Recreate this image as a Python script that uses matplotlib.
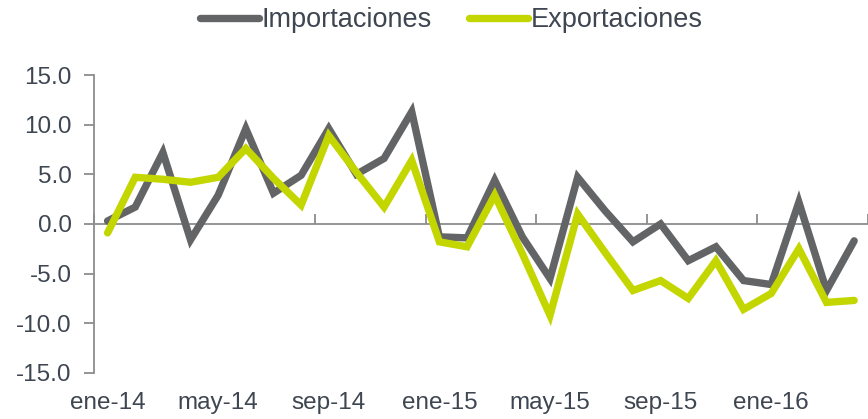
import matplotlib.pyplot as plt

months = ["ene-14", "feb-14", "mar-14", "abr-14", "may-14", "jun-14", "jul-14",
          "ago-14", "sep-14", "oct-14", "nov-14", "dic-14", "ene-15", "feb-15",
          "mar-15", "abr-15", "may-15", "jun-15", "jul-15", "ago-15", "sep-15",
          "oct-15", "nov-15", "dic-15", "ene-16", "feb-16", "mar-16", "abr-16"]

importaciones = [0.3, 1.7, 7.2, -1.6, 2.9, 9.6, 3.1, 4.9, 9.6, 5.0, 6.6, 11.3,
                 -1.3, -1.4, 4.4, -1.3, -5.5, 4.7, 1.3, -1.8, 0.0, -3.7, -2.3,
                 -5.7, -6.1, 2.2, -6.7, -1.7]
exportaciones = [-0.9, 4.7, 4.5, 4.2, 4.7, 7.6, 4.6, 1.9, 8.9, 5.2, 1.7, 6.4,
                 -1.8, -2.3, 2.9, -3.0, -9.2, 1.0, -2.9, -6.7, -5.7, -7.5, -3.7,
                 -8.6, -7.0, -2.5, -7.9, -7.7]

gray = "#636466"
green = "#c4d600"
text_c = "#3e4651"
axis_c = "#8c8c8c"

plt.rcParams["font.family"] = ["Liberation Sans", "DejaVu Sans"]

fig = plt.figure(figsize=(8.68, 4.19), dpi=100)
ax = fig.add_axes([0.108, 0.110, 0.892, 0.711])

x = list(range(len(months)))
ax.plot(x, importaciones, color=gray, lw=5.3, solid_joinstyle="miter",
        solid_capstyle="round", label="Importaciones")
ax.plot(x, exportaciones, color=green, lw=5.3, solid_joinstyle="miter",
        solid_capstyle="round", label="Exportaciones")

ax.set_xlim(-0.5, len(months) - 0.5)
ax.set_ylim(-15, 15)
yt = [-15, -10, -5, 0, 5, 10, 15]
ax.set_yticks(yt)
ax.set_yticklabels([f"{v:.1f}" for v in yt])

for s in ["top", "right", "bottom"]:
    ax.spines[s].set_visible(False)
ax.spines["left"].set_color(axis_c)
ax.spines["left"].set_linewidth(1.3)
ax.tick_params(axis="y", colors=axis_c, labelcolor=text_c, labelsize=17.5,
               length=7, width=1.3, pad=9)

# category labels at the bottom
ax.set_xticks(x[::4])
ax.set_xticklabels(months[::4])
ax.tick_params(axis="x", length=0, labelsize=17.5, labelcolor=text_c, pad=14)

# axis line at zero with ticks between categories
sec = ax.secondary_xaxis(0.5)
sec.set_xticks([i - 0.5 for i in x[::4]] + [len(months) - 0.5])
sec.set_xticklabels([])
for sp in sec.spines.values():
    sp.set_color(axis_c)
    sp.set_linewidth(1.3)
sec.tick_params(axis="x", colors=axis_c, length=7, width=1.3, direction="out")

fig.legend(loc="center", bbox_to_anchor=(0.52, 0.952), ncol=2, frameon=False,
           fontsize=19.5, handlelength=2.2, handletextpad=0.1, columnspacing=1.35,
           labelcolor=text_c)

fig.savefig("out.png", dpi=100)
